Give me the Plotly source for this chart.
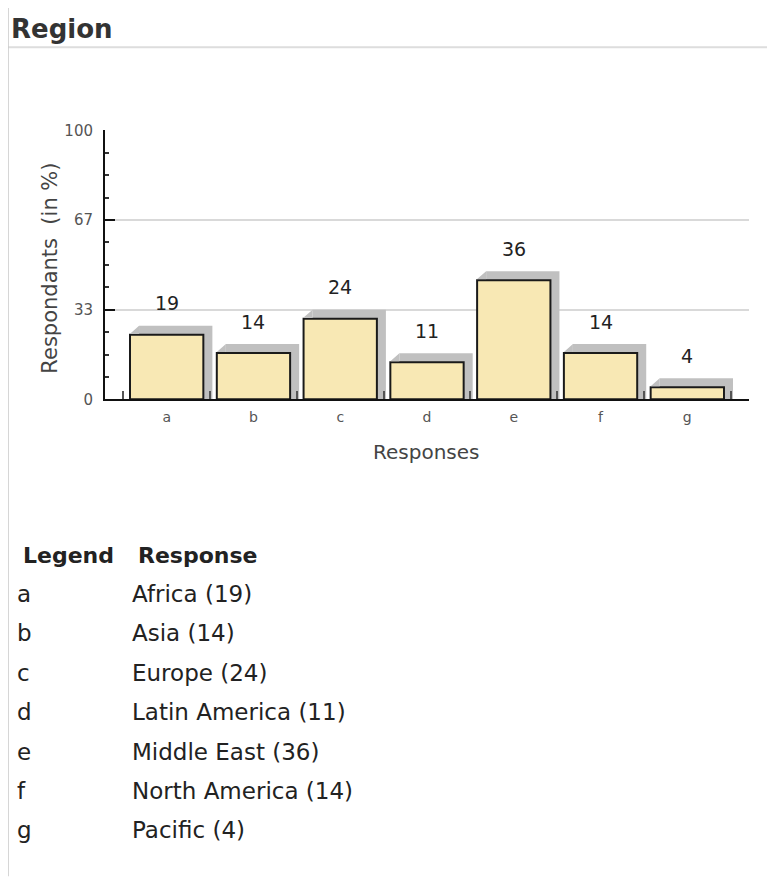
import plotly.graph_objects as go

# ---------------- data ----------------
categories = ["a", "b", "c", "d", "e", "f", "g"]
region_names = ["Africa", "Asia", "Europe", "Latin America", "Middle East",
                "North America", "Pacific"]
counts = [19, 14, 24, 11, 36, 14, 4]
percent = [24.0, 17.2, 30.0, 13.8, 44.3, 17.2, 4.5]   # bar heights
y_tick_values = [0, 100 / 3, 200 / 3, 100]
y_tick_labels = ["0", "33", "67", "100"]
y_minor_values = [k * 100 / 12 for k in range(13) if k % 4 != 0]

# ---------------- layout helpers ----------------
OFF_X, OFF_Y, SY = 8, 16, 0.982      # page offset / vertical scale of the photo
W, H = 759, 884


def px(x):
    return (x - OFF_X) / W


def py(y):
    return 1 - (y / SY - OFF_Y) / H


FONT = "DejaVu Sans"
bar_width = 0.845
shadow_dx = 0.104      # shadow offset (category units)
shadow_dy = 3.35       # shadow depth (axis units)
edge_eps = 0.4
idx = list(range(len(categories)))

fig = go.Figure()

# shadow (back face)
fig.add_trace(go.Bar(
    x=idx, y=[v + shadow_dy for v in percent],
    width=bar_width, offset=-bar_width / 2 + shadow_dx,
    marker=dict(color="#c0c0c0", line=dict(width=0)),
    hoverinfo="skip", showlegend=False,
))

# front bars
fig.add_trace(go.Bar(
    x=idx, y=percent,
    width=bar_width, offset=-bar_width / 2,
    marker=dict(color="#f8e8b4", line=dict(color="#1a1a1a", width=2)),
    customdata=region_names,
    hovertemplate="%{customdata}: %{y}<extra></extra>",
    showlegend=False,
))

# bevel triangles of the shadow
bx, by = [], []
for i, v in zip(idx, percent):
    left = i - bar_width / 2
    bx += [left, left + shadow_dx, left + shadow_dx, None]
    by += [v + edge_eps, v + shadow_dy, v + edge_eps, None]
fig.add_trace(go.Scatter(
    x=bx, y=by, mode="lines", fill="toself", fillcolor="#c0c0c0",
    line=dict(width=0, color="#c0c0c0"), hoverinfo="skip", showlegend=False,
))

annotations = []
# value labels above bars
for i, v, c in zip(idx, percent, counts):
    annotations.append(dict(
        x=i, y=v, xref="x", yref="y", text=str(c), showarrow=False,
        yanchor="middle", yshift=31.5,
        font=dict(family=FONT, size=19, color="#222222"),
    ))

# axis titles
annotations.append(dict(
    x=px(426), y=py(452), xref="paper", yref="paper", text="Responses",
    showarrow=False, xanchor="center", yanchor="middle",
    font=dict(family=FONT, size=20, color="#444444"),
))
annotations.append(dict(
    x=px(50), y=py(268), xref="paper", yref="paper", text="Respondants  (in %)",
    showarrow=False, xanchor="center", yanchor="middle", textangle=-90,
    font=dict(family=FONT, size=21, color="#444444"),
))

# header
annotations.append(dict(
    x=px(9), y=py(28), xref="paper", yref="paper", text="<b>Region</b>",
    showarrow=False, xanchor="left", yanchor="middle",
    font=dict(family=FONT, size=26, color="#333333"),
))

# legend table
annotations.append(dict(
    x=px(21), y=py(556), xref="paper", yref="paper", text="<b>Legend</b>",
    showarrow=False, xanchor="left", yanchor="middle",
    font=dict(family=FONT, size=22, color="#222222"),
))
annotations.append(dict(
    x=px(136), y=py(556), xref="paper", yref="paper", text="<b>Response</b>",
    showarrow=False, xanchor="left", yanchor="middle",
    font=dict(family=FONT, size=22, color="#222222"),
))
row_top, row_step = 594, 39.5
for k, (cat, name, c) in enumerate(zip(categories, region_names, counts)):
    yy = row_top + k * row_step
    annotations.append(dict(
        x=px(15), y=py(yy), xref="paper", yref="paper", text=cat,
        showarrow=False, xanchor="left", yanchor="middle",
        font=dict(family=FONT, size=23, color="#222222"),
    ))
    annotations.append(dict(
        x=px(130), y=py(yy), xref="paper", yref="paper", text=f"{name} ({c})",
        showarrow=False, xanchor="left", yanchor="middle",
        font=dict(family=FONT, size=23, color="#222222"),
    ))

shapes = [
    dict(type="line", xref="paper", yref="paper", x0=px(8), x1=1,
         y0=py(46), y1=py(46), line=dict(color="#dddddd", width=2)),
    dict(type="line", xref="paper", yref="paper", x0=px(8), x1=px(8),
         y0=py(4), y1=py(877), line=dict(color="#c8c8c8", width=1.5)),
]

fig.update_layout(
    width=W, height=H,
    margin=dict(l=0, r=0, t=0, b=0),
    paper_bgcolor="white", plot_bgcolor="white",
    barmode="overlay", showlegend=False,
    annotations=annotations, shapes=shapes,
    xaxis=dict(
        domain=[px(105), px(749)], range=[-0.711, 6.711],
        tickmode="array", tickvals=idx, ticktext=categories,
        ticks="", showgrid=False, zeroline=False,
        showline=True, linecolor="#111111", linewidth=2,
        tickfont=dict(family=FONT, size=14, color="#555555"),
        ticklabelstandoff=4,
        minor=dict(tickvals=[i - 0.5 for i in range(len(categories) + 1)],
                   ticks="inside", ticklen=8, tickwidth=1.5, tickcolor="#555555",
                   showgrid=False),
        fixedrange=True,
    ),
    yaxis=dict(
        domain=[py(399), py(129.3)], range=[0, 100],
        tickmode="array", tickvals=y_tick_values, ticktext=y_tick_labels,
        ticks="inside", ticklen=10, tickwidth=2, tickcolor="#111111",
        showgrid=True, gridcolor="#d9d9d9", gridwidth=1.5,
        zeroline=False, showline=True, linecolor="#111111", linewidth=2,
        tickfont=dict(family=FONT, size=15, color="#555555"),
        ticklabelstandoff=7,
        minor=dict(tickvals=y_minor_values, ticks="inside", ticklen=4,
                   tickwidth=1.5, tickcolor="#333333", showgrid=False),
        fixedrange=True,
    ),
)

fig.write_html("out.html")
